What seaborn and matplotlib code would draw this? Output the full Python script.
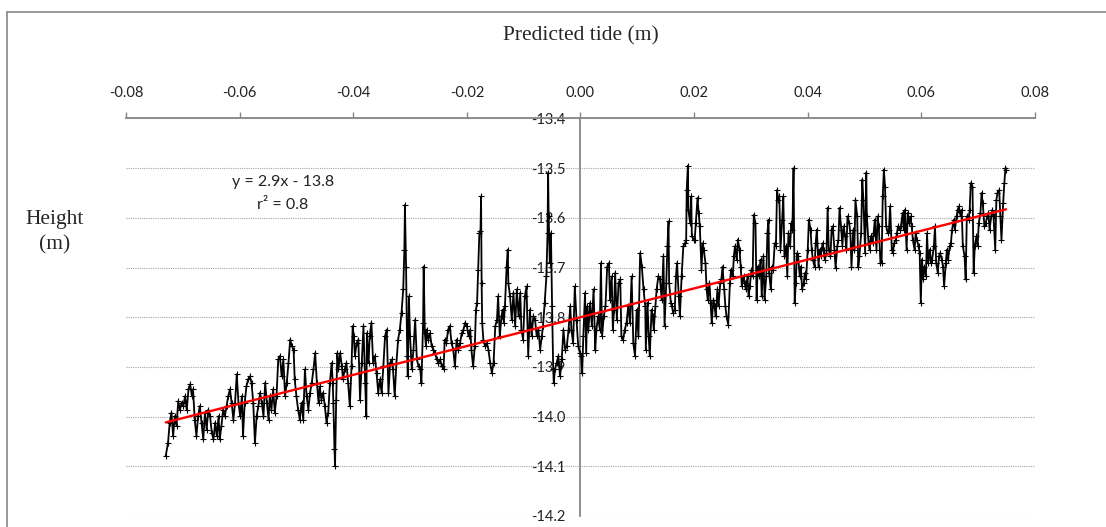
import matplotlib
matplotlib.use("Agg")
import matplotlib.pyplot as plt
from matplotlib.lines import Line2D
import numpy as np
import pandas as pd
import seaborn as sns


TIDE_WEST = [
    -0.0730, -0.0726, -0.0723, -0.0720, -0.0717, -0.0714, -0.0711, -0.0708, -0.0705, -0.0702,
    -0.0699, -0.0696, -0.0693, -0.0690, -0.0687, -0.0684, -0.0682, -0.0679, -0.0676, -0.0673,
    -0.0670, -0.0667, -0.0664, -0.0661, -0.0658, -0.0655, -0.0652, -0.0649, -0.0646, -0.0643,
    -0.0640, -0.0637, -0.0635, -0.0632, -0.0629, -0.0626, -0.0623, -0.0620, -0.0617, -0.0614,
    -0.0611, -0.0608, -0.0605, -0.0602, -0.0599, -0.0596, -0.0594, -0.0591, -0.0588, -0.0585,
    -0.0582, -0.0579, -0.0576, -0.0573, -0.0570, -0.0567, -0.0564, -0.0561, -0.0558, -0.0555,
    -0.0552, -0.0549, -0.0547, -0.0544, -0.0541, -0.0538, -0.0535, -0.0532, -0.0529, -0.0526,
    -0.0523, -0.0520, -0.0517, -0.0514, -0.0511, -0.0508, -0.0505, -0.0503, -0.0500, -0.0497,
    -0.0494, -0.0491, -0.0488, -0.0485, -0.0482, -0.0479, -0.0476, -0.0473, -0.0470, -0.0467,
    -0.0464, -0.0461, -0.0459, -0.0456, -0.0453, -0.0450, -0.0447, -0.0444, -0.0441, -0.0438,
    -0.0436, -0.0435, -0.0433, -0.0432, -0.0430, -0.0428, -0.0426, -0.0423, -0.0420, -0.0418,
    -0.0415, -0.0412, -0.0409, -0.0406, -0.0403, -0.0401, -0.0399, -0.0397, -0.0394, -0.0391,
    -0.0388, -0.0385, -0.0382, -0.0379,
]
HEIGHT_WEST = [
    -14.079, -14.053, -14.012, -13.992, -14.039, -13.999, -14.019, -13.969, -13.986, -13.972,
    -13.979, -13.959, -13.986, -13.945, -13.935, -13.959, -13.945, -14.006, -14.039, -13.999,
    -13.979, -14.012, -14.046, -13.992, -14.026, -13.986, -13.999, -14.032, -14.046, -14.012,
    -14.039, -13.999, -14.046, -14.019, -13.986, -13.999, -13.979, -13.959, -13.945, -13.972,
    -14.006, -13.972, -13.915, -13.972, -13.999, -13.959, -14.039, -13.972, -13.939, -13.925,
    -13.919, -13.932, -13.972, -14.053, -13.999, -13.979, -13.952, -13.972, -13.999, -13.932,
    -13.972, -14.006, -13.959, -13.986, -13.945, -13.992, -13.959, -13.885, -13.878, -13.919,
    -13.885, -13.959, -13.932, -13.892, -13.845, -13.858, -13.865, -13.925, -13.959, -13.986,
    -14.006, -13.972, -14.006, -13.905, -13.959, -13.986, -13.952, -13.932, -13.905, -13.872,
    -13.932, -13.972, -13.939, -13.966, -13.952, -13.979, -14.012, -13.992, -13.932, -13.892,
    -13.932, -13.972, -14.066, -14.099, -13.966, -13.872, -13.905, -13.872, -13.899, -13.925,
    -13.905, -13.892, -13.932, -13.979, -13.899, -13.818, -13.838, -13.878, -13.852, -13.845,
    -13.966, -13.892, -13.818, -13.932,
]

TIDE_FALLING = [
    -0.0377, -0.0376, -0.0373, -0.0371, -0.0368, -0.0365, -0.0362, -0.0359, -0.0356, -0.0353,
    -0.0350, -0.0347, -0.0344, -0.0341, -0.0338, -0.0335, -0.0332, -0.0330, -0.0327, -0.0324,
    -0.0321, -0.0318, -0.0315, -0.0312, -0.0310, -0.0309, -0.0307, -0.0305, -0.0304, -0.0302,
    -0.0300, -0.0297, -0.0294, -0.0291, -0.0288, -0.0285, -0.0282, -0.0280, -0.0277, -0.0276,
    -0.0274, -0.0272, -0.0271, -0.0268, -0.0265, -0.0262, -0.0259, -0.0256, -0.0253, -0.0250,
    -0.0247, -0.0244, -0.0241, -0.0239, -0.0236, -0.0233, -0.0230, -0.0227, -0.0224, -0.0221,
    -0.0218, -0.0215, -0.0212, -0.0209, -0.0206, -0.0203, -0.0200, -0.0197, -0.0194, -0.0192,
    -0.0189, -0.0186, -0.0184, -0.0182, -0.0180, -0.0178, -0.0176, -0.0175, -0.0174, -0.0173,
    -0.0171, -0.0168, -0.0165, -0.0162, -0.0159, -0.0156, -0.0153, -0.0150, -0.0147, -0.0145,
    -0.0142, -0.0139, -0.0137, -0.0135, -0.0133, -0.0130, -0.0128, -0.0127, -0.0124, -0.0121,
    -0.0118, -0.0115, -0.0112, -0.0109, -0.0106, -0.0104, -0.0101, -0.0098, -0.0095, -0.0092,
    -0.0089, -0.0086, -0.0083, -0.0080, -0.0077, -0.0074, -0.0071, -0.0068, -0.0066, -0.0063,
    -0.0060, -0.0058, -0.0057, -0.0056, -0.0054, -0.0052, -0.0050, -0.0048, -0.0047, -0.0045,
    -0.0042, -0.0039, -0.0036, -0.0033, -0.0030, -0.0027, -0.0024, -0.0021, -0.0018, -0.0016,
    -0.0013, -0.0010, -0.0007, -0.0004, -0.0001,
]
HEIGHT_FALLING = [
    -13.999, -13.832, -13.892, -13.838, -13.811, -13.892, -13.878, -13.912, -13.952, -13.925,
    -13.952, -13.899, -13.838, -13.825, -13.952, -13.892, -13.885, -13.905, -13.959, -13.892,
    -13.845, -13.825, -13.791, -13.744, -13.664, -13.574, -13.698, -13.878, -13.919, -13.758,
    -13.838, -13.905, -13.865, -13.805, -13.885, -13.899, -13.905, -13.932, -13.811, -13.698,
    -13.832, -13.858, -13.825, -13.845, -13.832, -13.858, -13.865, -13.872, -13.885, -13.892,
    -13.885, -13.899, -13.905, -13.845, -13.852, -13.825, -13.818, -13.852, -13.865, -13.899,
    -13.845, -13.865, -13.852, -13.832, -13.825, -13.811, -13.818, -13.838, -13.825, -13.865,
    -13.899, -13.858, -13.785, -13.771, -13.704, -13.631, -13.627, -13.557, -13.731, -13.811,
    -13.845, -13.858, -13.852, -13.865, -13.892, -13.912, -13.892, -13.818, -13.805, -13.758,
    -13.838, -13.798, -13.785, -13.811, -13.778, -13.698, -13.664, -13.731, -13.758, -13.805,
    -13.751, -13.818, -13.744, -13.798, -13.751, -13.825, -13.845, -13.758, -13.738, -13.878,
    -13.785, -13.838, -13.798, -13.805, -13.838, -13.825, -13.865, -13.838, -13.818, -13.771,
    -13.718, -13.631, -13.510, -13.597, -13.691, -13.631, -13.778, -13.905, -13.932, -13.905,
    -13.892, -13.878, -13.919, -13.885, -13.825, -13.865, -13.858, -13.825, -13.778, -13.825,
    -13.852, -13.738, -13.805, -13.858, -13.872,
]

TIDE_RISING = [
    0.0001, 0.0003, 0.0005, 0.0008, 0.0010, 0.0012, 0.0014, 0.0017, 0.0020, 0.0023,
    0.0026, 0.0028, 0.0031, 0.0034, 0.0036, 0.0038, 0.0041, 0.0044, 0.0047, 0.0050,
    0.0052, 0.0055, 0.0057, 0.0059, 0.0061, 0.0064, 0.0067, 0.0070, 0.0072, 0.0075,
    0.0078, 0.0081, 0.0084, 0.0087, 0.0090, 0.0093, 0.0096, 0.0099, 0.0102, 0.0105,
    0.0108, 0.0111, 0.0114, 0.0115, 0.0118, 0.0120, 0.0122, 0.0125, 0.0127, 0.0129,
    0.0132, 0.0134, 0.0137, 0.0140, 0.0143, 0.0146, 0.0148, 0.0151, 0.0153, 0.0155,
    0.0156, 0.0159, 0.0161, 0.0163, 0.0166, 0.0168, 0.0170, 0.0173, 0.0175, 0.0178,
    0.0181, 0.0184, 0.0186, 0.0187, 0.0189, 0.0190, 0.0193, 0.0195, 0.0196, 0.0199,
    0.0201, 0.0203, 0.0206, 0.0208, 0.0210, 0.0213, 0.0215, 0.0217, 0.0220, 0.0222,
    0.0224, 0.0227, 0.0229, 0.0231, 0.0234, 0.0236, 0.0238, 0.0241, 0.0243, 0.0246,
    0.0248, 0.0250, 0.0253, 0.0255, 0.0257, 0.0260, 0.0263, 0.0265, 0.0268, 0.0270,
    0.0272, 0.0275, 0.0277, 0.0280, 0.0282, 0.0284, 0.0287, 0.0289, 0.0291, 0.0294,
    0.0296, 0.0298, 0.0301, 0.0303, 0.0305, 0.0308, 0.0310, 0.0312, 0.0315, 0.0317,
    0.0319, 0.0322, 0.0324, 0.0327, 0.0329, 0.0331, 0.0332, 0.0335, 0.0337, 0.0339,
    0.0342, 0.0344, 0.0346, 0.0348, 0.0350, 0.0352, 0.0355, 0.0357, 0.0359, 0.0362,
    0.0364, 0.0366, 0.0369, 0.0371, 0.0373, 0.0375, 0.0377,
]
HEIGHT_RISING = [
    -13.878, -13.912, -13.838, -13.751, -13.872, -13.778, -13.825, -13.771, -13.818, -13.744,
    -13.865, -13.825, -13.798, -13.825, -13.691, -13.838, -13.798, -13.778, -13.698, -13.691,
    -13.765, -13.718, -13.825, -13.785, -13.711, -13.805, -13.731, -13.724, -13.838, -13.845,
    -13.825, -13.811, -13.778, -13.811, -13.718, -13.852, -13.878, -13.785, -13.838, -13.671,
    -13.698, -13.744, -13.778, -13.865, -13.771, -13.838, -13.878, -13.785, -13.798, -13.825,
    -13.778, -13.744, -13.718, -13.724, -13.765, -13.677, -13.818, -13.731, -13.657, -13.607,
    -13.731, -13.771, -13.778, -13.791, -13.785, -13.718, -13.691, -13.758, -13.798, -13.718,
    -13.657, -13.651, -13.644, -13.544, -13.495, -13.584, -13.611, -13.557, -13.637, -13.644,
    -13.644, -13.611, -13.560, -13.590, -13.617, -13.704, -13.651, -13.664, -13.691, -13.744,
    -13.765, -13.731, -13.771, -13.811, -13.765, -13.778, -13.798, -13.744, -13.778, -13.731,
    -13.724, -13.698, -13.744, -13.778, -13.798, -13.815, -13.731, -13.704, -13.718, -13.677,
    -13.657, -13.684, -13.644, -13.664, -13.698, -13.738, -13.718, -13.731, -13.744, -13.718,
    -13.758, -13.738, -13.704, -13.718, -13.594, -13.611, -13.765, -13.698, -13.718, -13.684,
    -13.758, -13.677, -13.765, -13.718, -13.631, -13.604, -13.711, -13.744, -13.698, -13.704,
    -13.651, -13.657, -13.544, -13.564, -13.557, -13.664, -13.604, -13.557, -13.677, -13.657,
    -13.718, -13.631, -13.657, -13.611, -13.624, -13.500, -13.771,
]

TIDE_EAST = [
    0.0379, 0.0381, 0.0383, 0.0386, 0.0388, 0.0390, 0.0393, 0.0395, 0.0397, 0.0400,
    0.0402, 0.0405, 0.0407, 0.0409, 0.0412, 0.0414, 0.0416, 0.0419, 0.0421, 0.0423,
    0.0426, 0.0428, 0.0430, 0.0433, 0.0435, 0.0437, 0.0440, 0.0442, 0.0444, 0.0447,
    0.0449, 0.0452, 0.0454, 0.0456, 0.0459, 0.0461, 0.0463, 0.0466, 0.0468, 0.0470,
    0.0473, 0.0475, 0.0477, 0.0480, 0.0482, 0.0484, 0.0487, 0.0489, 0.0491, 0.0494,
    0.0496, 0.0498, 0.0501, 0.0503, 0.0504, 0.0507, 0.0509, 0.0511, 0.0514, 0.0516,
    0.0518, 0.0521, 0.0523, 0.0525, 0.0528, 0.0530, 0.0532, 0.0534, 0.0536, 0.0538,
    0.0541, 0.0543, 0.0545, 0.0548, 0.0550, 0.0552, 0.0555, 0.0557, 0.0559, 0.0562,
    0.0564, 0.0567, 0.0569, 0.0571, 0.0574, 0.0576, 0.0578, 0.0581, 0.0583, 0.0585,
    0.0588, 0.0590, 0.0592, 0.0595, 0.0597, 0.0599, 0.0601, 0.0603, 0.0605, 0.0608,
    0.0610, 0.0612, 0.0615, 0.0617, 0.0619, 0.0622, 0.0624, 0.0626, 0.0629, 0.0631,
    0.0633, 0.0636, 0.0638, 0.0640, 0.0643, 0.0645, 0.0647, 0.0650, 0.0652, 0.0654,
    0.0657, 0.0659, 0.0662, 0.0664, 0.0666, 0.0669, 0.0671, 0.0673, 0.0676, 0.0678,
    0.0680, 0.0683, 0.0685, 0.0687, 0.0690, 0.0692, 0.0694, 0.0697, 0.0699, 0.0701,
    0.0704, 0.0706, 0.0708, 0.0711, 0.0713, 0.0716, 0.0718, 0.0720, 0.0723, 0.0725,
    0.0727, 0.0730, 0.0732, 0.0734, 0.0737, 0.0739, 0.0741, 0.0744, 0.0746, 0.0748,
    0.0749,
]
HEIGHT_EAST = [
    -13.731, -13.671, -13.677, -13.718, -13.698, -13.744, -13.731, -13.711, -13.724, -13.664,
    -13.604, -13.624, -13.664, -13.684, -13.698, -13.651, -13.624, -13.698, -13.664, -13.677,
    -13.651, -13.664, -13.684, -13.671, -13.580, -13.664, -13.677, -13.624, -13.617, -13.664,
    -13.701, -13.657, -13.644, -13.580, -13.624, -13.657, -13.617, -13.637, -13.664, -13.597,
    -13.611, -13.631, -13.698, -13.624, -13.664, -13.564, -13.597, -13.698, -13.677, -13.631,
    -13.523, -13.564, -13.671, -13.509, -13.597, -13.651, -13.664, -13.637, -13.651, -13.631,
    -13.604, -13.664, -13.597, -13.617, -13.691, -13.691, -13.557, -13.503, -13.537, -13.617,
    -13.631, -13.624, -13.577, -13.664, -13.671, -13.651, -13.644, -13.631, -13.617, -13.624,
    -13.617, -13.590, -13.624, -13.584, -13.664, -13.590, -13.611, -13.597, -13.617, -13.644,
    -13.664, -13.631, -13.644, -13.657, -13.671, -13.771, -13.684, -13.724, -13.698, -13.718,
    -13.631, -13.691, -13.664, -13.691, -13.684, -13.657, -13.617, -13.691, -13.711, -13.677,
    -13.671, -13.684, -13.698, -13.738, -13.691, -13.664, -13.684, -13.657, -13.651, -13.624,
    -13.604, -13.624, -13.597, -13.584, -13.577, -13.597, -13.584, -13.657, -13.677, -13.724,
    -13.597, -13.604, -13.584, -13.530, -13.537, -13.711, -13.657, -13.637, -13.657, -13.611,
    -13.590, -13.550, -13.570, -13.617, -13.611, -13.597, -13.590, -13.624, -13.597, -13.584,
    -13.597, -13.664, -13.564, -13.550, -13.544, -13.597, -13.644, -13.570, -13.530, -13.500,
    -13.503,
]

X_TICKS = [-0.08, -0.06, -0.04, -0.02, 0.00, 0.02, 0.04, 0.06, 0.08]
Y_TICKS = [-14.2, -14.1, -14.0, -13.9, -13.8, -13.7, -13.6, -13.5, -13.4]

# linear trend as printed on the chart
TREND_SLOPE = 2.9
TREND_INTERCEPT = -13.8
EQUATION_TEXT = "y = 2.9x - 13.8"
R2_TEXT = "r\u00b2 = 0.8"

AXIS_GREY = "#868686"
SANS = ["Lato", "DejaVu Sans"]
SERIF = ["Liberation Serif", "DejaVu Serif"]


def build_frame():
    return pd.DataFrame(
        {
            "tide": TIDE_WEST + TIDE_FALLING + TIDE_RISING + TIDE_EAST,
            "height": HEIGHT_WEST + HEIGHT_FALLING + HEIGHT_RISING + HEIGHT_EAST,
        }
    )


def main():
    df = build_frame()
    trend = pd.DataFrame({"tide": [df["tide"].min(), df["tide"].max()]})
    trend["height"] = TREND_SLOPE * trend["tide"] + TREND_INTERCEPT

    sns.set_theme(style="white")
    plt.rcParams["font.family"] = SANS

    fig = plt.figure(figsize=(11.06, 5.27), dpi=100)
    ax = fig.add_axes([0.1139, 0.0209, 0.8219, 0.7543])

    sns.lineplot(
        data=df,
        x="tide",
        y="height",
        sort=False,
        estimator=None,
        color="#000000",
        linewidth=1.3,
        marker="+",
        markersize=4,
        markeredgewidth=0.8,
        markeredgecolor="#000000",
        ax=ax,
        zorder=3,
    )
    sns.lineplot(
        data=trend,
        x="tide",
        y="height",
        color="#ff0000",
        linewidth=1.7,
        ax=ax,
        zorder=4,
    )

    ax.set_xlim(-0.08, 0.08)
    ax.set_ylim(-14.2, -13.4)
    ax.set_xticks(X_TICKS)
    ax.set_xticklabels([f"{t:.2f}" for t in X_TICKS])
    ax.set_yticks(Y_TICKS)
    ax.set_yticklabels([f"{t:.1f}" for t in Y_TICKS])

    # excel-like layout: x axis on top, y axis crossing at zero
    ax.xaxis.set_ticks_position("top")
    ax.spines["left"].set_position(("data", 0))
    ax.spines["bottom"].set_visible(False)
    ax.spines["right"].set_visible(False)
    for side in ("top", "left"):
        ax.spines[side].set_color(AXIS_GREY)
        ax.spines[side].set_linewidth(1.3)
        ax.spines[side].set_zorder(2)

    ax.tick_params(axis="x", direction="out", length=4, width=1, color=AXIS_GREY,
                   pad=9.5, labelsize=10.5, labelcolor="#222222")
    ax.tick_params(axis="y", direction="out", length=4, width=1, color=AXIS_GREY,
                   pad=7, labelsize=10.5, labelcolor="#222222")

    ax.yaxis.grid(True, linestyle=(0, (1, 1)), color="#a6a6a6", linewidth=0.8, zorder=0)
    ax.xaxis.grid(False)
    ax.set_axisbelow(True)

    ax.xaxis.set_label_position("top")
    ax.set_xlabel("Predicted tide (m)", family=SERIF, fontsize=15.5)
    ax.xaxis.label.set_verticalalignment("center")
    ax.xaxis.set_label_coords(0.5, 1.207)
    ax.set_ylabel("Height\n(m)", family=SERIF, fontsize=15.5, rotation=0,
                  ha="center", va="center", linespacing=1.45)
    ax.yaxis.set_label_coords(-0.078, 0.7145)

    ax.text(0.1727, 0.840, EQUATION_TEXT, transform=ax.transAxes, ha="center",
            va="center", fontsize=11.5, color="#222222")
    ax.text(0.1727, 0.782, R2_TEXT, transform=ax.transAxes, ha="center",
            va="center", fontsize=11.5, color="#222222")

    # chart area border (left and top edges only are inside the crop)
    fig.add_artist(Line2D([0.0063, 0.0063], [0.0, 0.977], color=AXIS_GREY, linewidth=1.2))
    fig.add_artist(Line2D([0.0063, 1.0], [0.977, 0.977], color=AXIS_GREY, linewidth=1.2))

    fig.savefig("out.png", dpi=100)
    plt.close(fig)


if __name__ == "__main__":
    main()
